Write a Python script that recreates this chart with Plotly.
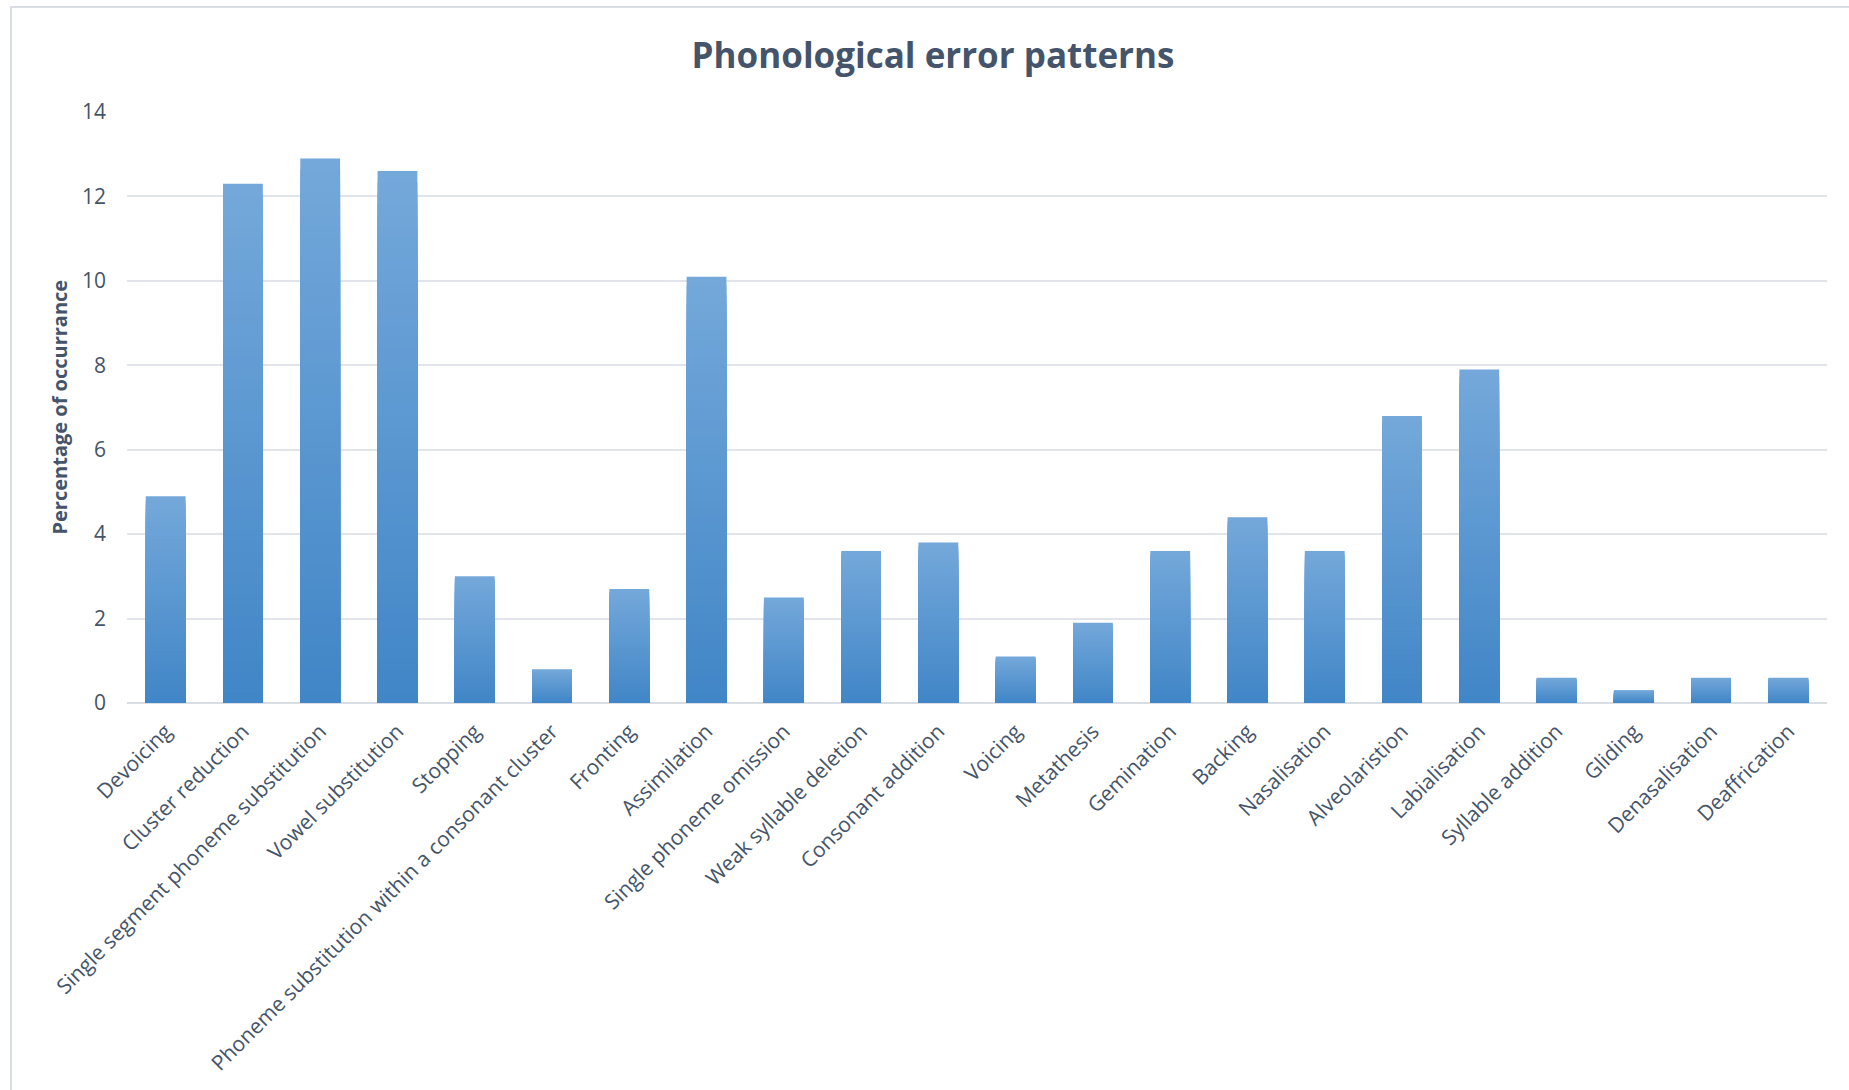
import plotly.graph_objects as go

# Phonological error patterns: percentage of occurrence per pattern
categories = [
    "Devoicing", "Cluster reduction", "Single segment phoneme substitution",
    "Vowel substitution", "Stopping", "Phoneme substitution within a consonant cluster",
    "Fronting", "Assimilation", "Single phoneme omission", "Weak syllable deletion",
    "Consonant addition", "Voicing", "Metathesis", "Gemination", "Backing",
    "Nasalisation", "Alveolaristion", "Labialisation", "Syllable addition",
    "Gliding", "Denasalisation", "Deaffrication",
]
percentages = [4.9, 12.3, 12.9, 12.6, 3.0, 0.8, 2.7, 10.1, 2.5, 3.6, 3.8, 1.1,
               1.9, 3.6, 4.4, 3.6, 6.8, 7.9, 0.6, 0.3, 0.6, 0.6]
y_ticks = [0, 2, 4, 6, 8, 10, 12, 14]

W, H = 1849, 1090
M_L, M_R, M_T, M_B = 127, 22, 112, 387
PW, PH = W - M_L - M_R, H - M_T - M_B

TEXT = "#44546A"
GRID = "#E1E5EB"
TOP_RGB = (116, 168, 218)
BOT_RGB = (65, 134, 199)
FONT = "Open Sans"


def px_x(px):
    return (px - M_L) / PW


def px_y(py):
    return (H - M_B - py) / PH


fig = go.Figure()

# vertical gradient in each bar: stacked overlays, lighter at the top
N = 48
for k in range(N):
    f = k / (N - 1)
    rgb = tuple(round(TOP_RGB[i] + (BOT_RGB[i] - TOP_RGB[i]) * f) for i in range(3))
    frac = 1 - k / N
    fig.add_trace(go.Bar(
        x=categories,
        y=[v * frac for v in percentages],
        marker=dict(color="rgb(%d,%d,%d)" % rgb, line=dict(width=0)),
        hoverinfo="skip" if k else "x+y",
        showlegend=False,
    ))

fig.update_layout(
    width=W, height=H,
    margin=dict(l=M_L, r=M_R, t=M_T, b=M_B, pad=0),
    paper_bgcolor="white", plot_bgcolor="white",
    barmode="overlay", bargap=0.485,
    font=dict(family=FONT, color=TEXT),
    title=dict(
        text="Phonological error patterns",
        x=933 / W, xanchor="center", xref="container",
        y=1 - 56 / H, yanchor="middle", yref="container",
        font=dict(family=FONT, size=35, color=TEXT, weight="bold"),
    ),
    xaxis=dict(
        type="category", tickangle=-45, automargin=False,
        tickfont=dict(family=FONT, size=21, color=TEXT),
        showgrid=False, showline=False, ticks="", ticklabelstandoff=11,
    ),
    yaxis=dict(
        range=[0, 14], tickvals=y_ticks, automargin=False,
        tickfont=dict(family=FONT, size=21, color=TEXT),
        showgrid=True, gridcolor=GRID, gridwidth=2,
        zeroline=True, zerolinecolor="#D9DEE5", zerolinewidth=2,
        showline=False, ticks="", ticklabelstandoff=20,
    ),
    annotations=[dict(
        text="Percentage of occurrance", textangle=-90,
        xref="paper", yref="paper", x=px_x(59), y=0.5,
        xanchor="center", yanchor="middle", showarrow=False,
        font=dict(family=FONT, size=20, color=TEXT, weight="bold"),
    )],
    shapes=[dict(
        type="rect", xref="paper", yref="paper", layer="below",
        x0=px_x(11), x1=px_x(W + 20), y0=px_y(H + 20), y1=px_y(7),
        line=dict(color="#D9DEE6", width=2), fillcolor="rgba(0,0,0,0)",
    )],
)

fig.write_html("out.html")
